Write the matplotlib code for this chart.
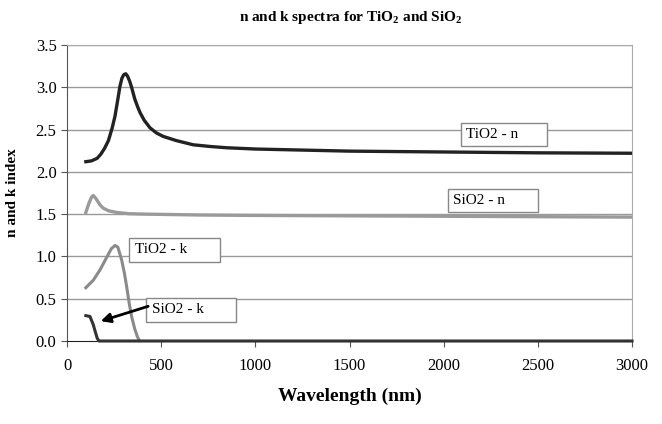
import matplotlib
matplotlib.use("Agg")
import matplotlib.pyplot as plt

plt.rcParams['font.family'] = ['Liberation Serif', 'DejaVu Serif']
plt.rcParams['mathtext.fontset'] = 'custom'
plt.rcParams['mathtext.rm'] = 'Liberation Serif'
plt.rcParams['mathtext.bf'] = 'Liberation Serif:bold'

# TiO2 - n
tio2_n_wl = [100, 130, 160, 180, 200, 220, 240, 255, 270, 281, 292, 302, 312, 322, 333, 343, 360, 375,
             388, 410, 441, 475, 510, 580, 670, 760, 848, 1000, 1200, 1500, 2000, 2500, 3000]
tio2_n = [2.12, 2.13, 2.16, 2.21, 2.28, 2.37, 2.52, 2.66, 2.86, 3.01, 3.11, 3.15, 3.16, 3.13, 3.07, 3.00, 2.86, 2.77,
          2.70, 2.61, 2.52, 2.46, 2.42, 2.37, 2.32, 2.30, 2.285, 2.27, 2.26, 2.245, 2.235, 2.225, 2.22]

# SiO2 - n
sio2_n_wl = [100, 115, 130, 140, 155, 175, 193, 220, 264, 330, 423, 700, 1000, 1500, 2000, 2500, 3000]
sio2_n = [1.52, 1.62, 1.70, 1.72, 1.68, 1.61, 1.57, 1.54, 1.52, 1.505, 1.50, 1.49, 1.485, 1.48, 1.475, 1.47, 1.465]

# TiO2 - k
tio2_k_wl = [100, 140, 175, 211, 235, 255, 270, 290, 305, 317, 330, 343, 360, 374, 385]
tio2_k = [0.63, 0.72, 0.84, 0.99, 1.09, 1.13, 1.11, 0.96, 0.80, 0.64, 0.45, 0.29, 0.14, 0.05, 0.0]

# SiO2 - k
sio2_k_wl = [100, 122, 140, 150, 161, 170, 3000]
sio2_k = [0.30, 0.29, 0.19, 0.11, 0.03, 0.0, 0.0]

y_ticks = [0.0, 0.5, 1.0, 1.5, 2.0, 2.5, 3.0, 3.5]
x_ticks = [0, 500, 1000, 1500, 2000, 2500, 3000]

fig = plt.figure(figsize=(6.62, 4.24), dpi=100)
ax = fig.add_axes([67/662, 1-341/424, (632-67)/662, (341-45)/424])

for yv in y_ticks[1:]:
    ax.axhline(yv, color='#999999', lw=1.0, zorder=1)

ax.plot(tio2_n_wl, tio2_n, color='#222222', lw=2.4, zorder=3)
ax.plot(sio2_n_wl, sio2_n, color='#9a9a9a', lw=2.4, zorder=3)
ax.plot(tio2_k_wl, tio2_k, color='#8a8a8a', lw=2.2, zorder=3)
ax.plot(sio2_k_wl, sio2_k, color='#333333', lw=2.2, zorder=4, clip_on=False)

ax.set_xlim(0, 3000)
ax.set_ylim(0, 3.5)
ax.set_xticks(x_ticks)
ax.set_yticks(y_ticks)
ax.set_yticklabels([f"{v:.1f}" for v in y_ticks])
ax.tick_params(axis='both', direction='out', length=4, labelsize=12, color='#555555')
ax.tick_params(axis='x', pad=8)

for s in ['top', 'right']:
    ax.spines[s].set_color('#aaaaaa')
ax.spines['left'].set_color('#555555')
ax.spines['bottom'].set_color('#222222')

box = dict(boxstyle='square,pad=0.35', fc='white', ec='#888888', lw=1.0)
ax.text(2120, 2.44, "TiO2 - n      ", fontsize=11, va='center', ha='left', bbox=box, zorder=5)
ax.text(2050, 1.66, "SiO2 - n       ", fontsize=11, va='center', ha='left', bbox=box, zorder=5)
ax.text(360, 1.08, "TiO2 - k       ", fontsize=11, va='center', ha='left', bbox=box, zorder=5)
ax.text(450, 0.37, "SiO2 - k       ", fontsize=11, va='center', ha='left', bbox=box, zorder=5)

ax.annotate("", xy=(165, 0.225), xytext=(445, 0.42),
            arrowprops=dict(arrowstyle='-|>', color='black', lw=2.0, mutation_scale=14), zorder=6)

fig.text(0.53, 1-17/424, r"n and k spectra for TiO$_\mathbf{2}$ and SiO$_\mathbf{2}$", ha='center', va='center',
         fontsize=11, fontweight='bold')
ax.set_xlabel("Wavelength (nm)", fontsize=14, fontweight='bold', labelpad=10)
ax.set_ylabel("n and k index", fontsize=11, fontweight='bold', labelpad=12)

fig.savefig("out.png", dpi=100)
